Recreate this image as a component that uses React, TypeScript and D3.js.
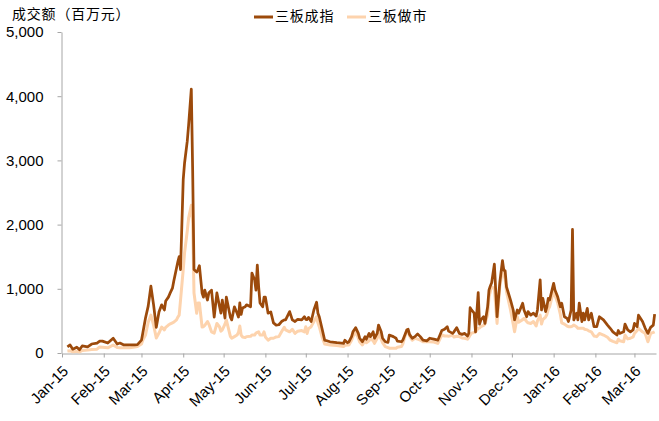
import React, { useEffect, useRef } from "react";
import * as d3 from "d3";

// 成交额（百万元）: 三板成指 vs 三板做市
const dates = [
  "2015-01-05", "2015-01-07", "2015-01-09", "2015-01-12", "2015-01-14", "2015-01-16", "2015-01-20", "2015-01-23",
  "2015-01-27", "2015-01-29", "2015-01-31", "2015-02-04", "2015-02-08", "2015-02-11", "2015-02-13", "2015-02-16",
  "2015-02-20", "2015-02-24", "2015-02-26", "2015-03-01", "2015-03-02", "2015-03-04", "2015-03-06", "2015-03-08",
  "2015-03-10", "2015-03-12", "2015-03-14", "2015-03-16", "2015-03-18", "2015-03-19", "2015-03-21", "2015-03-22",
  "2015-03-24", "2015-03-25", "2015-03-27", "2015-03-28", "2015-03-29", "2015-03-30", "2015-04-01", "2015-04-02",
  "2015-04-04", "2015-04-05", "2015-04-07", "2015-04-08", "2015-04-09", "2015-04-11", "2015-04-12", "2015-04-13",
  "2015-04-15", "2015-04-16", "2015-04-17", "2015-04-19", "2015-04-20", "2015-04-22", "2015-04-24", "2015-04-26",
  "2015-04-28", "2015-04-29", "2015-04-30", "2015-05-02", "2015-05-03", "2015-05-06", "2015-05-07", "2015-05-09",
  "2015-05-11", "2015-05-12", "2015-05-13", "2015-05-14", "2015-05-15", "2015-05-17", "2015-05-18", "2015-05-21",
  "2015-05-22", "2015-05-24", "2015-05-25", "2015-05-26", "2015-05-27", "2015-05-28", "2015-05-30", "2015-05-31",
  "2015-06-01", "2015-06-03", "2015-06-05", "2015-06-07", "2015-06-09", "2015-06-11", "2015-06-13", "2015-06-15",
  "2015-06-16", "2015-06-19", "2015-06-21", "2015-06-23", "2015-06-25", "2015-06-28", "2015-06-30", "2015-07-01",
  "2015-07-02", "2015-07-03", "2015-07-05", "2015-07-07", "2015-07-09", "2015-07-10", "2015-07-11", "2015-07-13",
  "2015-07-15", "2015-07-19", "2015-07-24", "2015-07-29", "2015-07-30", "2015-08-01", "2015-08-02", "2015-08-04",
  "2015-08-05", "2015-08-07", "2015-08-09", "2015-08-10", "2015-08-12", "2015-08-14", "2015-08-15", "2015-08-17",
  "2015-08-18", "2015-08-20", "2015-08-21", "2015-08-23", "2015-08-24", "2015-08-26", "2015-08-27", "2015-08-29",
  "2015-08-31", "2015-09-01", "2015-09-04", "2015-09-06", "2015-09-07", "2015-09-10", "2015-09-11", "2015-09-14",
  "2015-09-15", "2015-09-16", "2015-09-18", "2015-09-20", "2015-09-22", "2015-09-24", "2015-09-26", "2015-09-29",
  "2015-10-01", "2015-10-04", "2015-10-07", "2015-10-10", "2015-10-12", "2015-10-14", "2015-10-15", "2015-10-18",
  "2015-10-19", "2015-10-21", "2015-10-23", "2015-10-25", "2015-10-27", "2015-10-29", "2015-10-30", "2015-10-31",
  "2015-11-01", "2015-11-03", "2015-11-04", "2015-11-06", "2015-11-07", "2015-11-08", "2015-11-10", "2015-11-11",
  "2015-11-13", "2015-11-14", "2015-11-15", "2015-11-16", "2015-11-18", "2015-11-20", "2015-11-22", "2015-11-24",
  "2015-11-25", "2015-11-26", "2015-11-27", "2015-11-30", "2015-12-02", "2015-12-03", "2015-12-05", "2015-12-06",
  "2015-12-09", "2015-12-10", "2015-12-12", "2015-12-13", "2015-12-15", "2015-12-17", "2015-12-19", "2015-12-20",
  "2015-12-22", "2015-12-23", "2015-12-24", "2015-12-26", "2015-12-27", "2015-12-28", "2015-12-29", "2016-01-01",
  "2016-01-02", "2016-01-04", "2016-01-06", "2016-01-07", "2016-01-09", "2016-01-11", "2016-01-12", "2016-01-14",
  "2016-01-15", "2016-01-16", "2016-01-18", "2016-01-19", "2016-01-20", "2016-01-22", "2016-01-23", "2016-01-24",
  "2016-01-26", "2016-01-27", "2016-01-29", "2016-01-31", "2016-02-02", "2016-02-04", "2016-02-07", "2016-02-10",
  "2016-02-12", "2016-02-14", "2016-02-17", "2016-02-18", "2016-02-19", "2016-02-22", "2016-02-23", "2016-02-25",
  "2016-02-27", "2016-02-29", "2016-03-01", "2016-03-03", "2016-03-04", "2016-03-07", "2016-03-09", "2016-03-11",
  "2016-03-13", "2016-03-15", "2016-03-16",
];

const chengzhi = [
  95, 125, 60, 90, 50, 110, 95, 140,
  155, 185, 185, 155, 230, 140, 155, 125,
  125, 125, 130, 200, 310, 545, 730, 1040,
  750, 400, 640, 750, 670, 810, 870, 920,
  1010, 1120, 1320, 1420, 1500, 1300, 2700, 2960,
  3300, 3550, 4110, 2850, 1300, 1260, 1300, 1360,
  935, 870, 980, 825, 935, 980, 560, 935,
  720, 620, 825, 545, 870, 560, 515, 720,
  620, 560, 780, 600, 700, 720, 750, 720,
  1245, 1140, 980, 1370, 1030, 780, 720, 870,
  870, 620, 640, 470, 435, 440, 490, 515,
  515, 645, 515, 490, 525, 515, 565, 525,
  520, 555, 490, 670, 790, 620, 565, 385,
  200, 175, 160, 150, 200, 160, 175, 255,
  330, 395, 305, 230, 175, 255, 215, 305,
  255, 330, 230, 305, 435, 330, 230, 175,
  165, 280, 255, 230, 185, 175, 200, 360,
  370, 290, 230, 255, 295, 255, 200, 190,
  230, 215, 200, 350, 370, 410, 340, 305,
  330, 395, 305, 290, 305, 265, 305, 705,
  670, 620, 330, 940, 450, 515, 565, 460,
  720, 980, 1045, 1095, 1385, 565, 1090, 1440,
  1290, 1280, 1030, 825, 670, 515, 670, 620,
  775, 670, 565, 645, 590, 620, 575, 670,
  1140, 670, 850, 645, 720, 850, 825, 1085,
  980, 875, 720, 775, 565, 540, 490, 670,
  1925, 515, 620, 515, 775, 490, 620, 515,
  695, 515, 620, 410, 410, 565, 515, 435,
  385, 330, 280, 350, 305, 330, 450, 360,
  330, 360, 460, 410, 590, 490, 385, 305,
  400, 435, 605,
];

const zuoshi = [
  30, 35, 20, 25, 15, 40, 45, 55,
  60, 95, 90, 80, 125, 85, 80, 80,
  80, 95, 100, 140, 200, 280, 480, 590,
  435, 235, 310, 405, 360, 400, 435, 450,
  470, 480, 515, 560, 590, 825, 1300, 1560,
  1900, 2100, 2300, 2020, 935, 620, 780, 780,
  405, 410, 430, 490, 450, 330, 310, 460,
  405, 340, 360, 450, 515, 260, 230, 255,
  280, 320, 420, 280, 250, 240, 255, 260,
  280, 280, 310, 320, 330, 280, 280, 330,
  250, 200, 230, 230, 250, 255, 330, 400,
  360, 330, 370, 305, 340, 350, 330, 410,
  305, 380, 410, 490, 565, 470, 410, 255,
  140, 125, 115, 100, 120, 125, 125, 200,
  255, 330, 230, 170, 125, 200, 160, 190,
  230, 190, 150, 230, 315, 210, 160, 100,
  85, 75, 75, 75, 90, 100, 140, 360,
  330, 265, 200, 230, 215, 200, 175, 175,
  175, 170, 150, 280, 265, 265, 260, 275,
  250, 260, 255, 235, 230, 215, 240, 280,
  310, 320, 330, 385, 390, 410, 430, 450,
  600, 875, 960, 1030, 1005, 460, 1030, 1290,
  1220, 1150, 955, 670, 450, 330, 565, 480,
  520, 540, 490, 470, 460, 490, 420, 500,
  590, 450, 520, 560, 600, 680, 720, 980,
  900, 780, 600, 470, 450, 420, 410, 410,
  420, 435, 410, 385, 385, 385, 385, 370,
  360, 345, 330, 265, 255, 305, 280, 245,
  200, 180, 160, 215, 190, 175, 280, 220,
  230, 250, 305, 350, 385, 330, 305, 175,
  305, 320, 330,
];

const seriesNames = ["三板成指", "三板做市"];
const seriesColors = ["#9c4a0b", "#fdd3ad"];
const yTicks = [0, 1000, 2000, 3000, 4000, 5000];
const yTitle = "成交额（百万元）";

const width = 659;
const height = 421;

const App = () => {
  const svgRef = useRef<SVGSVGElement>(null);

  useEffect(() => {
    const svg = d3.select(svgRef.current);
    svg.selectAll("*").remove();

    const parse = d3.timeParse("%Y-%m-%d");
    const days = dates.map((d) => parse(d) as Date);

    const x = d3
      .scaleTime()
      .domain([new Date(2015, 0, 1), new Date(2016, 2, 17)])
      .range([62, 656]);
    const y = d3.scaleLinear().domain([0, 5000]).range([353, 32]);

    const axisColor = "#a6a6a6";
    const latin = "'Liberation Sans', Arial, sans-serif";
    const cjk = "'Noto Sans CJK SC', sans-serif";

    // y axis
    const yAxis = svg
      .append("g")
      .attr("transform", "translate(61.5,0)")
      .call(
        d3
          .axisLeft(y)
          .tickValues(yTicks)
          .tickSize(4)
          .tickSizeOuter(0)
          .tickPadding(14)
          .tickFormat(d3.format(","))
      );
    yAxis.select(".domain").attr("stroke", axisColor);
    yAxis.selectAll(".tick line").attr("stroke", axisColor);
    yAxis
      .selectAll(".tick text")
      .attr("fill", "#000")
      .style("font-family", latin)
      .style("font-size", "15px");

    // x axis
    const xAxis = svg
      .append("g")
      .attr("transform", "translate(0,353.5)")
      .call(
        d3
          .axisBottom(x)
          .ticks(d3.timeMonth.every(1))
          .tickSize(4)
          .tickSizeOuter(0)
          .tickFormat((d) => d3.timeFormat("%b-%y")(d as Date))
      );
    xAxis.select(".domain").attr("stroke", axisColor);
    xAxis.selectAll(".tick line").attr("stroke", axisColor);
    xAxis
      .selectAll(".tick text")
      .attr("fill", "#000")
      .attr("x", 0)
      .attr("y", 0)
      .attr("dy", "0.35em")
      .attr("text-anchor", "end")
      .attr("transform", "translate(3,15) rotate(-45)")
      .style("font-family", latin)
      .style("font-size", "15px");

    // lines, 做市 underneath
    const line = d3
      .line<number>()
      .x((_, i) => x(days[i]))
      .y((d) => y(d));

    [zuoshi, chengzhi].forEach((values, k) => {
      svg
        .append("path")
        .datum(values)
        .attr("fill", "none")
        .attr("stroke", seriesColors[1 - k])
        .attr("stroke-width", k === 0 ? 3 : 2.75)
        .attr("stroke-linejoin", "round")
        .attr("d", line);
    });

    // y title
    svg
      .append("text")
      .attr("x", 12)
      .attr("y", 15)
      .attr("dominant-baseline", "middle")
      .style("font-family", cjk)
      .style("font-size", "14px")
      .style("letter-spacing", "0.8px")
      .attr("fill", "#000")
      .text(yTitle);

    // legend
    const legendX = [254, 347];
    seriesNames.forEach((name, i) => {
      const g = svg.append("g").attr("transform", `translate(${legendX[i]},17)`);
      g.append("line")
        .attr("x1", 0)
        .attr("x2", 19)
        .attr("stroke", seriesColors[i])
        .attr("stroke-width", 3);
      g.append("text")
        .attr("x", 21)
        .attr("dominant-baseline", "middle")
        .style("font-family", cjk)
        .style("font-size", "14px")
        .style("letter-spacing", "0.8px")
        .attr("fill", "#000")
        .text(name);
    });
  }, []);

  return (
    <svg
      ref={svgRef}
      width={width}
      height={height}
      style={{ position: "absolute", left: 0, top: 0, background: "#fff" }}
    />
  );
};

export default App;
